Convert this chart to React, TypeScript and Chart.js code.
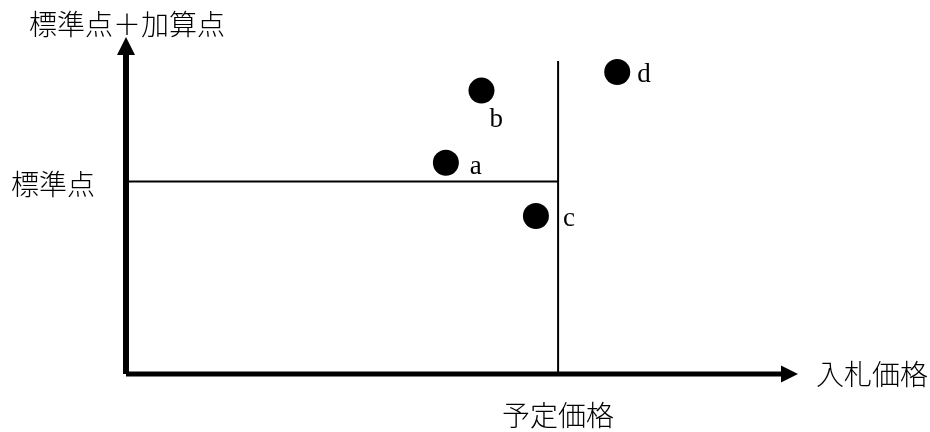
import React, { useEffect, useRef } from "react";
import { Chart, registerables } from "chart.js";

Chart.register(...registerables);

// ---- data ----
const pointLabels = ["a", "b", "c", "d"];
const bidPrices = [47.6, 52.9, 61.0, 73.1];
const scores = [62.7, 84.1, 46.9, 89.6];
const plannedPrice = 64.3;
const standardScore = 57.1;
const plannedLineTop = 92.9;
const axisMin = 0;
const axisMax = 100;
const xAxisTitle = "入札価格";
const yAxisTitle = "標準点＋加算点";
const standardLabel = "標準点";
const plannedLabel = "予定価格";

// ---- styles ----
const labelOffsets: Record<string, [number, number]> = {
  a: [24, 11],
  b: [8, 36],
  c: [27, 10],
  d: [20, 10],
};
const CJK_FONT = '300 28px "Noto Sans CJK JP", "Noto Sans", sans-serif';
const LATIN_FONT = '27px "Liberation Serif", "DejaVu Serif", serif';

const diagramPlugin = {
  id: "diagram",
  afterDatasetsDraw(chart: any) {
    const { ctx } = chart;
    const xs = chart.scales.x;
    const ys = chart.scales.y;
    const x0 = xs.getPixelForValue(axisMin);
    const y0 = ys.getPixelForValue(axisMin);
    const xEnd = xs.getPixelForValue(axisMax);
    const yEnd = ys.getPixelForValue(axisMax);
    ctx.save();
    ctx.fillStyle = "#000";
    // y axis shaft + arrow head
    const headY = 18;
    ctx.fillRect(x0 - 3, yEnd + headY - 1, 6, y0 - (yEnd + headY - 1));
    ctx.beginPath();
    ctx.moveTo(x0, yEnd);
    ctx.lineTo(x0 - 9, yEnd + headY);
    ctx.lineTo(x0 + 9, yEnd + headY);
    ctx.closePath();
    ctx.fill();
    // x axis shaft + arrow head
    const headX = 17;
    ctx.fillRect(x0, y0 - 2.5, xEnd - headX + 1 - x0, 5);
    ctx.beginPath();
    ctx.moveTo(xEnd, y0);
    ctx.lineTo(xEnd - headX, y0 - 8.5);
    ctx.lineTo(xEnd - headX, y0 + 8.5);
    ctx.closePath();
    ctx.fill();

    // CJK labels
    ctx.font = CJK_FONT;
    ctx.fillStyle = "#000";
    ctx.textBaseline = "middle";
    ctx.textAlign = "center";
    ctx.fillText(yAxisTitle, x0 + 1, yEnd - 13);
    ctx.textAlign = "right";
    ctx.fillText(standardLabel, x0 - 31, ys.getPixelForValue(standardScore) + 3);
    ctx.textAlign = "left";
    ctx.fillText(xAxisTitle, xEnd + 18, y0);
    ctx.textAlign = "center";
    ctx.fillText(plannedLabel, xs.getPixelForValue(plannedPrice), y0 + 41);

    // point labels
    ctx.font = LATIN_FONT;
    ctx.textAlign = "left";
    ctx.textBaseline = "alphabetic";
    pointLabels.forEach((lab, i) => {
      const px = xs.getPixelForValue(bidPrices[i]);
      const py = ys.getPixelForValue(scores[i]);
      const off = labelOffsets[lab] || [20, 10];
      ctx.fillText(lab, px + off[0], py + off[1]);
    });
    ctx.restore();
  },
};

export default function App() {
  const ref = useRef<HTMLCanvasElement | null>(null);
  useEffect(() => {
    if (!ref.current) return;
    const chart = new Chart(ref.current, {
      type: "scatter",
      data: {
        datasets: [
          {
            label: "standard",
            data: [
              { x: axisMin, y: standardScore },
              { x: plannedPrice, y: standardScore },
            ],
            showLine: true,
            borderColor: "#000",
            borderWidth: 2,
            pointRadius: 0,
            fill: false,
          } as any,
          {
            label: "planned",
            data: [
              { x: plannedPrice, y: axisMin },
              { x: plannedPrice, y: plannedLineTop },
            ],
            showLine: true,
            borderColor: "#000",
            borderWidth: 2,
            pointRadius: 0,
            fill: false,
          } as any,
          {
            label: "bids",
            data: bidPrices.map((x, i) => ({ x, y: scores[i] })),
            backgroundColor: "#000",
            borderColor: "#000",
            borderWidth: 0,
            pointRadius: 13,
            pointHoverRadius: 13,
          } as any,
        ],
      },
      options: {
        responsive: false,
        animation: false,
        layout: {
          autoPadding: false,
          padding: { left: 126, right: 132, top: 37, bottom: 58 },
        },
        scales: {
          x: { type: "linear", min: axisMin, max: axisMax, display: false },
          y: { type: "linear", min: axisMin, max: axisMax, display: false },
        },
        plugins: {
          legend: { display: false },
          tooltip: { enabled: false },
        },
        events: [],
      } as any,
      plugins: [diagramPlugin],
    });
    return () => chart.destroy();
  }, []);
  return (
    <div style={{ position: "fixed", left: 0, top: 0, width: 930, height: 432, background: "#fff" }}>
      <canvas ref={ref} width={930} height={432} style={{ width: 930, height: 432, display: "block" }} />
    </div>
  );
}
